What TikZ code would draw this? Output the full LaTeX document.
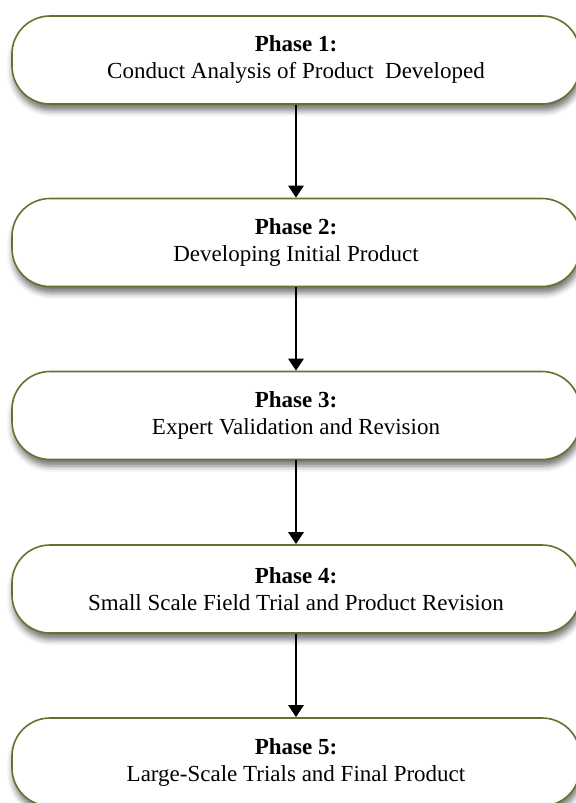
\documentclass[tikz,border=0pt]{standalone}
\usepackage{fontspec}
\setmainfont{Liberation Serif}
\usetikzlibrary{arrows.meta,shadows.blur}
\definecolor{phaseline}{RGB}{94,117,47}
\tikzset{
  phasebox/.style={draw=phaseline, line width=0.8pt, fill=white,
    rounded corners=19pt, minimum width=284pt, minimum height=44pt,
    align=center, font=\fontsize{11.5}{13.5}\selectfont,
    blur shadow={shadow xshift=0.6pt, shadow yshift=-3.2pt,
      shadow blur radius=3pt, shadow opacity=55}},
  phasearrow/.style={line width=1.4pt, -{Triangle[width=7.5pt,length=6pt]}}
}
\begin{document}
\begin{tikzpicture}[x=0.5pt,y=-0.5pt]
    \useasboundingbox (0,0) rectangle (575,803);
    \node[phasebox] (p1) at (296,60) {\textbf{Phase 1:}\\Conduct Analysis of Product\ \ Developed};
    \node[phasebox] (p2) at (296,242.5) {\textbf{Phase 2:}\\Developing Initial Product};
    \node[phasebox] (p3) at (296,415.5) {\textbf{Phase 3:}\\Expert Validation and Revision};
    \node[phasebox] (p4) at (296,589) {\textbf{Phase 4:}\\Small Scale Field Trial and Product Revision};
    \node[phasebox] (p5) at (296,762) {\textbf{Phase 5:}\\Large-Scale Trials and Final Product};%
    \draw[phasearrow] (p1) -- (p2);
    \draw[phasearrow] (p2) -- (p3);
    \draw[phasearrow] (p3) -- (p4);
    \draw[phasearrow] (p4) -- (p5);%
\end{tikzpicture}
\end{document}
